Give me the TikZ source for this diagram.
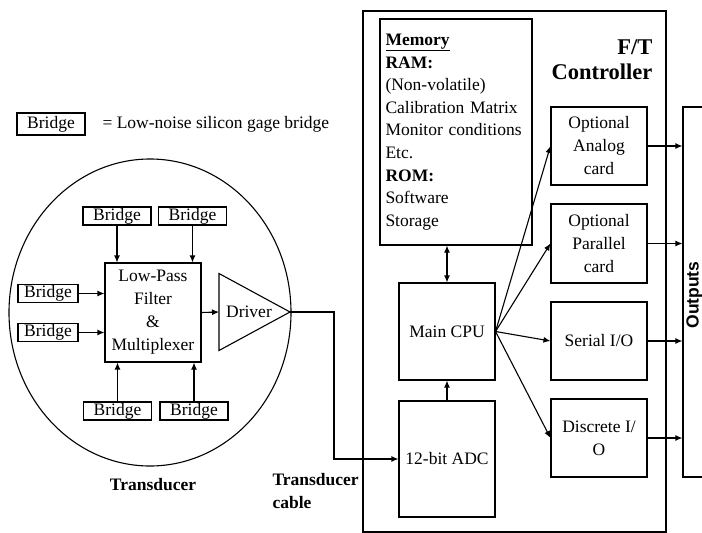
\documentclass[tikz,border=0pt]{standalone}
\usepackage{fontspec}
\setmainfont{Liberation Serif}
\setsansfont{Liberation Sans}
\usetikzlibrary{arrows.meta}

\tikzset{
  >={Latex[length=7pt,width=6pt]},
  every node/.style={font=\fontsize{17.5}{23}\selectfont},
  box/.style={draw, line width=1.1pt, inner sep=0pt, align=center},
  bridge/.style={box, minimum height=18, minimum width=68},
  lbl/.style={font=\fontsize{17.5}{22.5}\selectfont\bfseries},
}

\begin{document}
\begin{tikzpicture}[x=1pt,y=-1pt,line width=1.1pt]
  \useasboundingbox (0,0) rectangle (702,533);
  \clip (0,0) rectangle (702,533);

  % legend
  \node[box,minimum width=68,minimum height=22] (key) at (51,124) {Bridge};
  \node[anchor=west,inner sep=0] (keytxt) at (102,124) {= Low-noise silicon gage bridge};

  % transducer
  \draw (150,312.5) ellipse [x radius=141,y radius=153.5];
  \node[box,minimum width=96,minimum height=99] (filt) at (153,312.5) {Low-Pass\\Filter\\\&\\Multiplexer};
  \node[bridge] (b1) at (117,216) {Bridge};
  \node[bridge] (b2) at (192.5,216) {Bridge};
  \node[bridge,minimum width=60] (b3) at (48,293.5) {Bridge};
  \node[bridge,minimum width=60] (b4) at (48,332.5) {Bridge};
  \node[bridge] (b5) at (117.5,411) {Bridge};
  \node[bridge] (b6) at (194,411) {Bridge};
  \draw[->] (b1) -- (b1 |- filt.north);
  \draw[->] (b2) -- (b2 |- filt.north);
  \draw[->] (b3) -- (b3 -| filt.west);
  \draw[->] (b4) -- (b4 -| filt.west);
  \draw[->] (b5) -- (b5 |- filt.south);
  \draw[->] (b6) -- (b6 |- filt.south);

  % driver
  \coordinate (drvin) at (219,312);
  \coordinate (drvtip) at (290,312);
  \draw (drvin) -- (219,273.5) -- (drvtip) -- (219,350.5) -- cycle;
  \node (drv) at (249,312) {Driver};
  \draw[->] (filt.east) -- (drvin);

  \node[lbl] (tlab) at (153,485) {Transducer};
  \node[lbl,anchor=north west,align=left,inner sep=0] (clab) at (272,473) {Transducer\\cable};

  % controller
  \node[draw,minimum width=303,minimum height=521] (ctrl) at (514.5,271.5) {};
  \node[anchor=east,align=right,inner sep=0,font=\fontsize{22.5}{25}\selectfont\bfseries] (ctitle) at (653,60) {F/T\\Controller};
  \node[box,align=left,text width=141,inner xsep=5.5,minimum height=226,font=\fontsize{17.5}{22.6}\selectfont] (mem) at (456,132)
    {\underline{\textbf{Memory}}\\\textbf{RAM:}\\(Non-volatile)\\Calibration Matrix\\Monitor conditions\\Etc.\\\textbf{ROM:}\\Software\\Storage};
  \node[box,minimum width=96,minimum height=97] (cpu) at (447,331.5) {Main CPU};
  \node[box,minimum width=96,minimum height=116] (adc) at (447,459) {12-bit ADC};
  \node[box,minimum width=96,minimum height=78] (ana) at (599,146) {Optional\\Analog\\card};
  \node[box,minimum width=96,minimum height=79] (par) at (599,243.5) {Optional\\Parallel\\card};
  \node[box,minimum width=96,minimum height=78] (ser) at (599,341) {Serial I/O};
  \node[box,minimum width=96,minimum height=78] (dis) at (599,438) {Discrete I/\\O};

  % cable into the ADC
  \coordinate (bend) at (334,459);
  \draw[->] (drvtip) -| (bend) -- (adc.west);

  \draw[<->] (cpu.north) -- (cpu.north |- mem.south);
  \draw[->] (adc.north) -- (cpu.south);
  \foreach \c in {ana,par,ser,dis}
    \draw[->] (cpu.east) -- (\c.west);

  % outputs
  \node[box,minimum width=40,minimum height=370] (outp) at (703,292) {};
  \node[rotate=90,anchor=base,inner sep=0,font=\sffamily\bfseries\fontsize{17.5}{20}\selectfont] (outtxt) at (698.5,295) {Outputs};
  \foreach \c in {ana,par,ser,dis}
    \draw[->] (\c.east) -- (\c.east -| outp.west);
\end{tikzpicture}
\end{document}
